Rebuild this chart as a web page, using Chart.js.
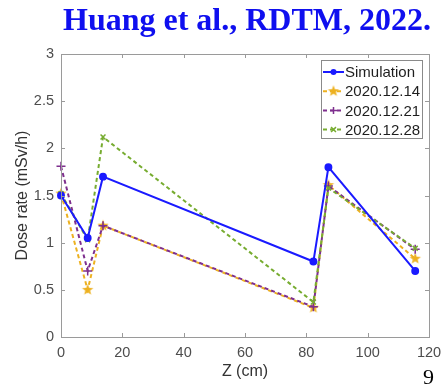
<!DOCTYPE html>
<html>
<head>
<meta charset="utf-8">
<script src="https://cdn.jsdelivr.net/npm/chart.js@4.4.1/dist/chart.umd.min.js"></script>
<style>
  html, body { margin: 0; padding: 0; background: #fff; }
  #wrap { width: 441px; height: 384px; position: relative; }
</style>
</head>
<body>
<div id="wrap"><canvas id="doseChart" width="441" height="384"></canvas></div>
<script>
// positions along Z (cm)
const zPositions = [0, 8.7, 13.7, 82.3, 87.2, 115.5];

// dose rate (mSv/h)
const simulation = [1.5, 1.05, 1.7, 0.8, 1.8, 0.7];
const meas1214 = [1.52, 0.5, 1.18, 0.31, 1.61, 0.83];
const meas1221 = [1.81, 0.7, 1.18, 0.32, 1.6, 0.93];
const meas1228 = [1.52, 1.03, 2.12, 0.37, 1.58, 0.94];

const seriesLabels = ["Simulation", "2020.12.14", "2020.12.21", "2020.12.28"];
const headline = "Huang et al., RDTM, 2022.";
const pageNo = "9";

const BLUE = "#1a1aff";
const ORANGE = "#EDB120";
const PURPLE = "#7E2F8E";
const GREEN = "#77AC30";
const AXIS = "#9a9a9a";
const TICKTXT = "#4d4d4d";
const SANS = "'Liberation Sans', Arial, sans-serif";

// filled pentagram marker like matlab
function makeStar(color, r) {
    const c = document.createElement("canvas");
    const s = r * 2 + 2;
    c.width = s; c.height = s;
    const g = c.getContext("2d");
    g.beginPath();
    for (let i = 0; i < 10; i++) {
        const rad = i % 2 === 0 ? r : r * 0.42;
        const a = -Math.PI / 2 + i * Math.PI / 5;
        const px = s / 2 + rad * Math.cos(a);
        const py = s / 2 + rad * Math.sin(a);
        if (i === 0) g.moveTo(px, py); else g.lineTo(px, py);
    }
    g.closePath();
    g.fillStyle = color;
    g.fill();
    return c;
}
const starImg = makeStar(ORANGE, 6);

const toPts = vals => vals.map((v, i) => ({ x: zPositions[i], y: v }));

const styles = [
    { color: BLUE, dash: [], width: 2, point: "circle", radius: 3.2 },
    { color: ORANGE, dash: [4, 3], width: 2, point: starImg, radius: 6 },
    { color: PURPLE, dash: [4, 3], width: 2, point: "cross", radius: 4.5 },
    { color: GREEN, dash: [4, 3], width: 2, point: "crossRot", radius: 3.5 }
];
const allSeries = [simulation, meas1214, meas1221, meas1228];

const datasets = allSeries.map((vals, i) => ({
    label: seriesLabels[i],
    data: toPts(vals),
    borderColor: styles[i].color,
    backgroundColor: styles[i].color,
    borderWidth: styles[i].width,
    borderDash: styles[i].dash,
    pointStyle: styles[i].point,
    pointRadius: styles[i].radius,
    pointBorderWidth: 1.5,
    pointBorderColor: styles[i].color,
    clip: false,
    tension: 0,
    order: i === 0 ? 0 : 4 - i
}));

// box around the axes + inward ticks on every side, legend, headline text
const matlabLook = {
    id: "matlabLook",
    afterDatasetsDraw(chart) {
        const ctx = chart.ctx;
        const a = chart.chartArea;
        const xs = chart.scales.x, ys = chart.scales.y;
        ctx.save();
        ctx.strokeStyle = AXIS;
        ctx.lineWidth = 1;
        ctx.strokeRect(a.left + 0.5, a.top + 0.5, a.right - a.left, a.bottom - a.top);
        ctx.beginPath();
        xs.ticks.forEach(t => {
            const px = Math.round(xs.getPixelForValue(t.value)) + 0.5;
            ctx.moveTo(px, a.bottom); ctx.lineTo(px, a.bottom - 4);
            ctx.moveTo(px, a.top); ctx.lineTo(px, a.top + 4);
        });
        ys.ticks.forEach(t => {
            const py = Math.round(ys.getPixelForValue(t.value)) + 0.5;
            ctx.moveTo(a.left, py); ctx.lineTo(a.left + 4, py);
            ctx.moveTo(a.right, py); ctx.lineTo(a.right - 4, py);
        });
        ctx.stroke();

        // legend
        const lx = 321, ly = 60, lw = 101, lh = 78;
        ctx.fillStyle = "#fff";
        ctx.fillRect(lx, ly, lw, lh);
        ctx.strokeStyle = "#8a8a8a";
        ctx.strokeRect(lx + 0.5, ly + 0.5, lw, lh);
        ctx.font = "15px " + SANS;
        ctx.textBaseline = "middle";
        ctx.textAlign = "left";
        chart.data.datasets.forEach((ds, i) => {
            const cy = ly + 12 + i * 19.2;
            ctx.strokeStyle = ds.borderColor;
            ctx.fillStyle = ds.borderColor;
            ctx.lineWidth = 2;
            ctx.setLineDash(ds.borderDash);
            ctx.beginPath();
            ctx.moveTo(lx + 2, cy);
            ctx.lineTo(lx + 23, cy);
            ctx.stroke();
            ctx.setLineDash([]);
            ctx.lineWidth = 1.5;
            if (ds.pointStyle === "circle") {
                ctx.beginPath();
                ctx.arc(lx + 12.5, cy, 3, 0, Math.PI * 2);
                ctx.fill();
            } else {
                Chart.helpers.drawPoint(ctx, {
                    pointStyle: ds.pointStyle,
                    radius: typeof ds.pointStyle === "string" ? 3.5 : 6,
                    rotation: 0,
                    borderWidth: 1.5
                }, lx + 12.5, cy);
            }
            ctx.fillStyle = "#1e1e1e";
            ctx.fillText(ds.label, lx + 24, cy + 1);
        });

        // headline and page number
        ctx.fillStyle = "#0f0fef";
        ctx.font = "bold 32px 'Liberation Serif', 'Times New Roman', serif";
        ctx.textAlign = "right";
        ctx.textBaseline = "alphabetic";
        ctx.fillText(headline, 431, 30);
        ctx.fillStyle = "#000";
        ctx.font = "22px 'Liberation Serif', 'Times New Roman', serif";
        ctx.textAlign = "left";
        ctx.fillText(pageNo, 423, 384);
        ctx.restore();
    }
};

new Chart(document.getElementById("doseChart"), {
    type: "line",
    data: { datasets: datasets },
    options: {
        responsive: false,
        animation: false,
        devicePixelRatio: 1,
        layout: { padding: { top: 54, right: 12, bottom: 0, left: 0 } },
        plugins: {
            legend: { display: false },
            tooltip: { enabled: false }
        },
        scales: {
            x: {
                type: "linear",
                min: 0,
                max: 120,
                ticks: { stepSize: 20, color: TICKTXT, padding: 7, maxRotation: 0,
                    font: { size: 14.5, family: SANS } },
                grid: { display: false, drawTicks: false },
                border: { display: false },
                title: { display: true, text: "Z (cm)", color: "#333",
                    padding: { top: 0, bottom: 3 },
                    font: { size: 16, family: SANS } },
                afterFit: s => { s.height = 47; s.paddingLeft = 0; s.paddingRight = 0; }
            },
            y: {
                min: 0,
                max: 3,
                ticks: { stepSize: 0.5, color: TICKTXT, padding: 7,
                    callback: v => String(Math.round(v * 10) / 10),
                    font: { size: 14.5, family: SANS } },
                grid: { display: false, drawTicks: false },
                border: { display: false },
                title: { display: true, text: "Dose rate (mSv/h)", color: "#333",
                    padding: { top: 13, bottom: 0 },
                    font: { size: 16, family: SANS } },
                afterFit: s => { s.width = 61; s.paddingTop = 0; s.paddingBottom = 0; }
            }
        }
    },
    plugins: [matlabLook]
});
</script>
</body>
</html>
